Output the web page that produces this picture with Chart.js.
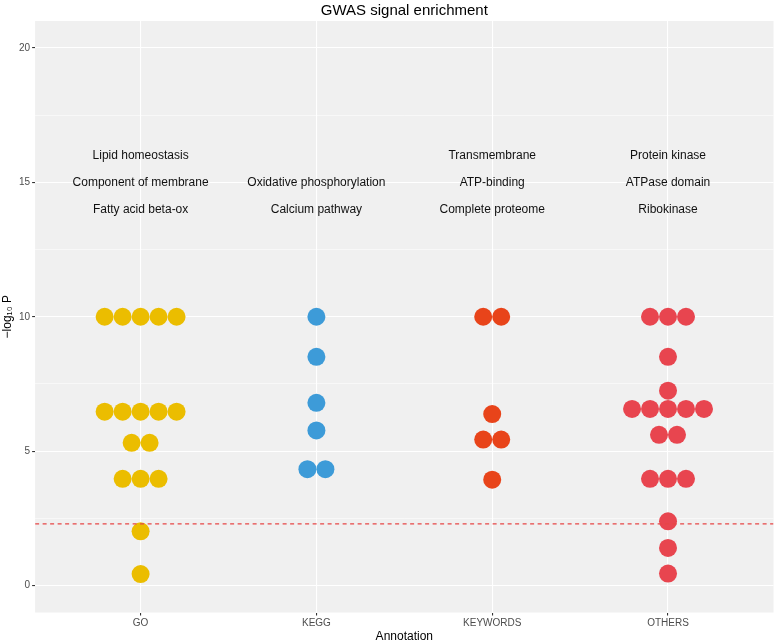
<!DOCTYPE html>
<html>
<head>
<meta charset="utf-8">
<title>GWAS signal enrichment</title>
<script src="https://cdn.jsdelivr.net/npm/chart.js@4.4.1/dist/chart.umd.min.js"></script>
<style>
  html, body { margin: 0; padding: 0; background: #ffffff; }
</style>
</head>
<body>
<canvas id="gwasChart" width="776" height="643"></canvas>
<script>
// Catégories de l'axe x
const categories = ["GO", "KEGG", "KEYWORDS", "OTHERS"];

// Valeurs -log10 P, par groupe
const goValues = [10, 10, 10, 10, 10, 6.47, 6.47, 6.47, 6.47, 6.47, 5.31, 5.31, 3.97, 3.97, 3.97, 2.02, 0.43];
const keggValues = [10, 8.51, 6.8, 5.77, 4.33, 4.33];
const keywordsValues = [10, 10, 6.38, 5.43, 5.43, 3.94];
const othersValues = [10, 10, 10, 8.51, 7.25, 6.57, 6.57, 6.57, 6.57, 6.57, 5.61, 5.61, 3.97, 3.97, 3.97, 2.39, 1.4, 0.45];

// Seuil de significativité
const threshold = 2.3;

// Textes d'annotation et leur niveau sur l'axe y
const labelLevels = [16, 15, 14];
const goLabels = ["Lipid homeostasis", "Component of membrane", "Fatty acid beta-ox"];
const keggLabels = ["", "Oxidative phosphorylation", "Calcium pathway"];
const keywordsLabels = ["Transmembrane", "ATP-binding", "Complete proteome"];
const othersLabels = ["Protein kinase", "ATPase domain", "Ribokinase"];

// Graduations de l'axe y
const yMajorTicks = [0, 5, 10, 15, 20];
const yMinorTicks = [2.5, 7.5, 12.5, 17.5];

const groupValues = [goValues, keggValues, keywordsValues, othersValues];
const groupLabels = [goLabels, keggLabels, keywordsLabels, othersLabels];
const colors = ["#EBBD00", "#3D9BD8", "#E8441A", "#E8454F"];

// écart horizontal entre deux points de même valeur (unités de l'axe x)
const dotStep = 0.1023;

// Disposition en "beeswarm" : les valeurs identiques sont étalées autour du centre
function dodge(values, center) {
  const counts = {};
  values.forEach((v) => (counts[v] = (counts[v] || 0) + 1));
  const seen = {};
  return values.map((v) => {
    seen[v] = seen[v] === undefined ? 0 : seen[v] + 1;
    return { x: center + (seen[v] - (counts[v] - 1) / 2) * dotStep, y: v };
  });
}

const isMajor = (v) => yMajorTicks.includes(v);

// Fond gris du panneau + textes d'annotation
const panelPlugin = {
  id: "panelPlugin",
  beforeDraw(chart) {
    const { ctx, chartArea: a } = chart;
    ctx.save();
    ctx.fillStyle = "#F0F0F0";
    ctx.fillRect(a.left, a.top, a.right - a.left, a.bottom - a.top);
    ctx.restore();
  },
  afterDatasetsDraw(chart) {
    const { ctx } = chart;
    const x = chart.scales.x;
    const y = chart.scales.y;
    ctx.save();
    ctx.font = "12px 'Liberation Sans', Arial, sans-serif";
    ctx.fillStyle = "#111111";
    ctx.textAlign = "center";
    ctx.textBaseline = "middle";
    groupLabels.forEach((labels, c) => {
      labels.forEach((txt, k) => {
        if (txt) ctx.fillText(txt, x.getPixelForValue(c + 1), y.getPixelForValue(labelLevels[k]));
      });
    });
    ctx.restore();
  },
};

Chart.defaults.font.family = "'Liberation Sans', Arial, sans-serif";

new Chart(document.getElementById("gwasChart"), {
  type: "scatter",
  data: {
    datasets: [
      {
        type: "line",
        label: "threshold",
        data: [
          { x: 0.4, y: threshold },
          { x: 4.6, y: threshold },
        ],
        borderColor: "#E64646",
        borderWidth: 1.3,
        borderDash: [4, 3.5],
        pointRadius: 0,
        fill: false,
      },
      ...categories.map((cat, i) => ({
        label: cat,
        data: dodge(groupValues[i], i + 1),
        backgroundColor: colors[i],
        pointRadius: 9,
        pointHoverRadius: 9,
        borderWidth: 0,
      })),
    ],
  },
  options: {
    responsive: false,
    animation: false,
    layout: { padding: { left: 0, right: 2.5, top: 0, bottom: 0 }, autoPadding: false },
    plugins: {
      legend: { display: false },
      tooltip: { enabled: false },
      title: {
        display: true,
        text: "GWAS signal enrichment",
        color: "#000000",
        fullSize: false,
        font: { size: 15, weight: "normal", lineHeight: 1.2 },
        padding: { top: 2, bottom: 1 },
      },
    },
    scales: {
      x: {
        type: "linear",
        min: 0.4,
        max: 4.6,
        afterBuildTicks: (scale) => {
          scale.ticks = categories.map((c, i) => ({ value: i + 1 }));
        },
        ticks: {
          callback: (v) => categories[Math.round(v) - 1],
          color: "#4D4D4D",
          font: { size: 10 },
          padding: 1.5,
          maxRotation: 0,
          autoSkip: false,
        },
        grid: { color: "#FFFFFF", lineWidth: 1.1, tickLength: 3, tickColor: "#333333" },
        border: { display: false },
        title: {
          display: true,
          text: "Annotation",
          color: "#000000",
          font: { size: 12, lineHeight: 1 },
          padding: { top: 0.5, bottom: 0 },
        },
      },
      y: {
        type: "linear",
        min: -1,
        max: 21,
        afterBuildTicks: (scale) => {
          scale.ticks = yMajorTicks.concat(yMinorTicks).sort((a, b) => a - b).map((v) => ({ value: v }));
        },
        ticks: {
          callback: (v) => (isMajor(v) ? v : ""),
          color: "#4D4D4D",
          font: { size: 10 },
          padding: 2,
          autoSkip: false,
        },
        grid: {
          color: "#FFFFFF",
          lineWidth: (ctx) => (ctx.tick && isMajor(ctx.tick.value) ? 1.1 : 0.55),
          tickLength: 3,
          tickColor: (ctx) => (ctx.tick && isMajor(ctx.tick.value) ? "#333333" : "rgba(0,0,0,0)"),
        },
        border: { display: false },
        title: {
          display: true,
          text: "−log₁₀ P",
          color: "#000000",
          font: { size: 12, lineHeight: 1 },
          padding: { top: 1.5, bottom: 3.5 },
        },
      },
    },
  },
  plugins: [panelPlugin],
});
</script>
</body>
</html>
